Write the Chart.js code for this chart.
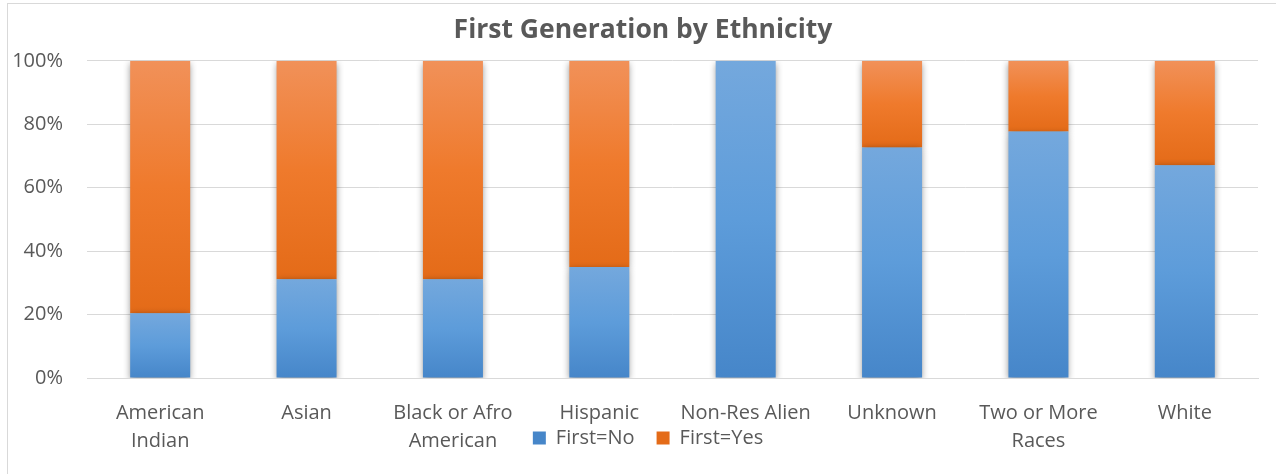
<!DOCTYPE html>
<html>
<head>
<meta charset="utf-8">
<script src="https://cdn.jsdelivr.net/npm/chart.js@4.4.0/dist/chart.umd.min.js"></script>
<style>
  html, body { margin: 0; padding: 0; background: #ffffff; overflow: hidden; }
  #wrap { position: relative; width: 1276px; height: 474px; }
  canvas { display: block; }
</style>
</head>
<body>
<div id="wrap"><canvas id="c" width="1276" height="474"></canvas></div>
<script>
// ---- data ----
const chartTitle = 'First Generation by Ethnicity';
const categories = [
  ['American', 'Indian'],
  'Asian',
  ['Black or Afro', 'American'],
  'Hispanic',
  'Non-Res Alien',
  'Unknown',
  ['Two or More', 'Races'],
  'White'
];
const seriesNames = ['First=No', 'First=Yes'];
const firstNo  = [20.4, 31.1, 31.1, 35.0, 100, 72.7, 77.7, 67.1];
const firstYes = [79.6, 68.9, 68.9, 65.0, 0, 27.3, 22.3, 32.9];
const yTicks = [0, 20, 40, 60, 80, 100];

const textColor = '#595959';
const gridColor = '#d9d9d9';
const FONT = "'Open Sans', 'Noto Sans', sans-serif";

function segGradient(ctx, stops, solid) {
  if (ctx.type !== 'data') return solid;
  const chart = ctx.chart;
  const ys = chart.scales && chart.scales.y;
  if (!ys || !chart.chartArea) return solid;
  const i = ctx.dataIndex;
  const base = ctx.datasetIndex === 0 ? 0 : firstNo[i];
  const val = ctx.datasetIndex === 0 ? firstNo[i] : firstYes[i];
  const yTop = ys.getPixelForValue(base + val);
  const yBot = ys.getPixelForValue(base);
  if (!isFinite(yTop) || !isFinite(yBot) || yBot - yTop < 1) return solid;
  const g = chart.ctx.createLinearGradient(0, yTop, 0, yBot);
  g.addColorStop(0, stops[0]);
  g.addColorStop(0.5, stops[1]);
  g.addColorStop(1, stops[2]);
  return g;
}

const borderPlugin = {
  id: 'outerBorder',
  beforeDraw(chart) {
    const c = chart.ctx;
    c.save();
    c.fillStyle = '#ffffff';
    c.fillRect(0, 0, chart.width, chart.height);
    c.strokeStyle = '#d9d9d9';
    c.lineWidth = 1;
    c.strokeRect(7.5, 3.5, 1400, 600);
    c.restore();
  }
};

const shadowPlugin = {
  id: 'barShadow',
  beforeDatasetDraw(chart) {
    const c = chart.ctx;
    c.save();
    c.shadowColor = 'rgba(0,0,0,0.45)';
    c.shadowBlur = 7;
    c.shadowOffsetX = 0;
    c.shadowOffsetY = 2;
  },
  afterDatasetDraw(chart) {
    chart.ctx.restore();
  }
};

// Excel-like placement: legend shares the row of the second label line
const layoutTweak = {
  id: 'layoutTweak',
  afterLayout(chart) {
    const lg = chart.legend;
    if (lg) { lg.left += 19; lg.right += 19; }
    const tb = chart.titleBlock;
    if (tb) { tb.left += 14; tb.right += 14; }
    const xs = chart.scales.x;
    if (xs) { xs.bottom = chart.height; xs.height = xs.bottom - xs.top; }
  }
};

new Chart(document.getElementById('c'), {
  type: 'bar',
  data: {
    labels: categories,
    datasets: [
      {
        label: seriesNames[0],
        data: firstNo,
        backgroundColor: (ctx) => segGradient(ctx, ['#74a8dd', '#5d9cda', '#4686c9'], '#5b9bd5'),
        borderWidth: 0,
        categoryPercentage: 1.0,
        barPercentage: 0.41
      },
      {
        label: seriesNames[1],
        data: firstYes,
        backgroundColor: (ctx) => segGradient(ctx, ['#f19159', '#ef7a2c', '#e46b18'], '#ed7d31'),
        borderWidth: 0,
        categoryPercentage: 1.0,
        barPercentage: 0.41
      }
    ]
  },
  options: {
    responsive: false,
    animation: false,
    devicePixelRatio: 1,
    layout: { padding: { left: 0, right: 18, top: 0, bottom: 16 } },
    plugins: {
      title: {
        display: true,
        text: chartTitle,
        color: textColor,
        font: { family: FONT, size: 26.5, weight: 'bold', lineHeight: 1.2 },
        padding: { top: 15, bottom: 14 }
      },
      legend: {
        display: true,
        position: 'bottom',
        labels: {
          color: textColor,
          font: { family: FONT, size: 20 },
          boxWidth: 13,
          boxHeight: 13,
          padding: 22
        }
      },
      tooltip: { enabled: false }
    },
    scales: {
      x: {
        stacked: true,
        grid: { display: false, drawTicks: false },
        border: { display: true, color: gridColor, width: 1 },
        ticks: {
          color: textColor,
          font: { family: FONT, size: 20, lineHeight: '28px' },
          padding: 21,
          maxRotation: 0,
          minRotation: 0,
          autoSkip: false
        },
        afterFit(scale) { scale.height = 28; }
      },
      y: {
        stacked: true,
        min: 0,
        max: 100,
        afterBuildTicks(scale) { scale.ticks = yTicks.map(v => ({ value: v })); },
        grid: { color: gridColor, lineWidth: 1, drawTicks: false },
        border: { display: false },
        ticks: {
          color: textColor,
          font: { family: FONT, size: 20 },
          padding: 24,
          callback: (v) => v + '%'
        },
        afterFit(scale) { scale.width = 87; }
      }
    }
  },
  plugins: [borderPlugin, shadowPlugin, layoutTweak]
});
</script>
</body>
</html>
